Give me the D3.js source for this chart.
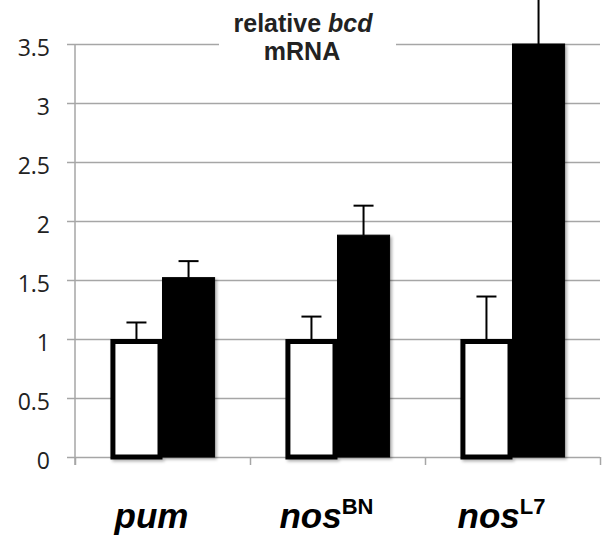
<!DOCTYPE html>
<html>
<head>
<meta charset="utf-8">
<script src="https://cdn.jsdelivr.net/npm/d3@7"></script>
<style>
  body { margin: 0; background: #fff; }
  svg { display: block; }
</style>
</head>
<body>
<div id="chart"></div>
<script>
// Werte
const categories = ["pum", "nosBN", "nosL7"];
const labelMain = ["pum", "nos", "nos"];
const labelSup = ["", "BN", "L7"];
const series = ["control", "mutant"];
const controlValues = [1, 1, 1];
const controlErr = [0.14, 0.19, 0.36];
const mutantValues = [1.52, 1.88, 3.5];
const mutantErr = [0.14, 0.25, 0.75];
const yTicks = [0, 0.5, 1, 1.5, 2, 2.5, 3, 3.5];
const yTickLabels = ["0", "0.5", "1", "1.5", "2", "2.5", "3", "3.5"];

const width = 606, height = 538;
const left = 75, right = 600, zeroY = 457, topY = 44;

const svg = d3.select("#chart").append("svg")
  .attr("width", width).attr("height", height);

const defs = svg.append("defs");
defs.append("filter").attr("id", "shadow")
  .attr("x", "-20%").attr("y", "-20%").attr("width", "140%").attr("height", "140%")
  .append("feDropShadow")
  .attr("dx", 2).attr("dy", 2).attr("stdDeviation", 1.5)
  .attr("flood-color", "#000").attr("flood-opacity", 0.3);

const x = d3.scaleBand().domain(categories).range([left, right]);
const xInner = d3.scaleBand().domain(series).range([0, x.bandwidth()])
  .paddingOuter(0.68);
const y = d3.scaleLinear().domain([0, 3.5]).range([zeroY, topY]);

// Y-Achse mit Gitterlinien
const leftAxis = d3.axisLeft(y)
  .tickValues(yTicks)
  .tickFormat((d, i) => yTickLabels[i])
  .tickSize(-(right - left))
  .tickPadding(25);
const yAxisG = svg.append("g")
  .attr("transform", `translate(${left},0)`)
  .call(leftAxis);
yAxisG.select(".domain").remove();
yAxisG.selectAll(".tick line")
  .attr("x1", -8)
  .attr("stroke", "#a6a6a6")
  .attr("stroke-width", 1.5);
yAxisG.selectAll(".tick text")
  .attr("x", -25)
  .attr("dy", "0.48em")
  .attr("fill", "#222")
  .style("font-family", "'Open Sans', Lato, sans-serif")
  .style("font-size", "23px");

// vertikale Achsenlinie
svg.append("line")
  .attr("x1", left).attr("x2", left)
  .attr("y1", y(3.5)).attr("y2", zeroY + 8)
  .attr("stroke", "#a6a6a6").attr("stroke-width", 1.5);

// X-Achse Ticks an den Kategoriegrenzen
const xTickScale = d3.scaleLinear().domain([0, categories.length]).range([left, right]);
const bottomAxis = d3.axisBottom(xTickScale)
  .tickValues(d3.range(0, categories.length + 1))
  .tickFormat("")
  .tickSizeOuter(0)
  .tickSize(8);
const xAxisG = svg.append("g")
  .attr("transform", `translate(0,${zeroY})`)
  .call(bottomAxis);
xAxisG.select(".domain").remove();
xAxisG.selectAll(".tick line").attr("stroke", "#a6a6a6").attr("stroke-width", 1.5);

// Titel-Box
const titleBox = svg.append("g");
titleBox.append("rect")
  .attr("x", 219).attr("y", 6).attr("width", 177).attr("height", 58)
  .attr("fill", "#fff");
const titleText = titleBox.append("text")
  .attr("x", 303).attr("y", 32)
  .attr("text-anchor", "middle")
  .attr("fill", "#222")
  .style("font-family", "'Liberation Sans', Arial, sans-serif")
  .style("font-weight", "bold")
  .style("font-size", "25px");
titleText.append("tspan").text("relative ");
titleText.append("tspan").style("font-style", "italic").text("bcd");
titleBox.append("text")
  .attr("x", 302).attr("y", 60)
  .attr("text-anchor", "middle")
  .attr("fill", "#222")
  .style("font-family", "'Liberation Sans', Arial, sans-serif")
  .style("font-weight", "bold")
  .style("font-size", "25px")
  .text("mRNA");

// Daten für die Balken
const bars = [];
categories.forEach((c, i) => {
  bars.push({ cat: c, key: "control", value: controlValues[i], err: controlErr[i] });
  bars.push({ cat: c, key: "mutant", value: mutantValues[i], err: mutantErr[i] });
});
const sw = 5;

const barG = svg.append("g").attr("filter", "url(#shadow)");
barG.selectAll("rect")
  .data(bars)
  .join("rect")
  .attr("x", d => x(d.cat) + xInner(d.key) + (d.key === "control" ? sw / 2 : 0))
  .attr("y", d => y(d.value) + (d.key === "control" ? sw / 2 : 0))
  .attr("width", d => xInner.bandwidth() - (d.key === "control" ? sw : 0))
  .attr("height", d => zeroY - y(d.value) - (d.key === "control" ? sw / 2 : 0))
  .attr("fill", d => d.key === "control" ? "#fff" : "#000")
  .attr("stroke", "#000")
  .attr("stroke-width", d => d.key === "control" ? sw : 1);

// Fehlerbalken (nur nach oben)
const errG = svg.append("g");
const cx = d => x(d.cat) + xInner(d.key) + xInner.bandwidth() / 2;
errG.selectAll("line.stem")
  .data(bars)
  .join("line")
  .attr("class", "stem")
  .attr("x1", cx).attr("x2", cx)
  .attr("y1", d => y(d.value))
  .attr("y2", d => y(d.value + d.err))
  .attr("stroke", "#000").attr("stroke-width", 2);
errG.selectAll("line.cap")
  .data(bars)
  .join("line")
  .attr("class", "cap")
  .attr("x1", d => cx(d) - 10).attr("x2", d => cx(d) + 10)
  .attr("y1", d => y(d.value + d.err))
  .attr("y2", d => y(d.value + d.err))
  .attr("stroke", "#000").attr("stroke-width", 2);

// Kategorie-Beschriftungen
categories.forEach((c, i) => {
  const t = svg.append("text")
    .attr("x", x(c) + x.bandwidth() / 2 - 11)
    .attr("y", 528)
    .attr("text-anchor", "middle")
    .attr("fill", "#000")
    .style("font-family", "'Liberation Sans', Arial, sans-serif")
    .style("font-weight", "bold");
  t.append("tspan")
    .style("font-style", "italic")
    .style("font-size", "35px")
    .text(labelMain[i]);
  if (labelSup[i]) {
    t.append("tspan")
      .attr("dy", -14)
      .style("font-size", "22px")
      .text(labelSup[i]);
  }
});
</script>
</body>
</html>
